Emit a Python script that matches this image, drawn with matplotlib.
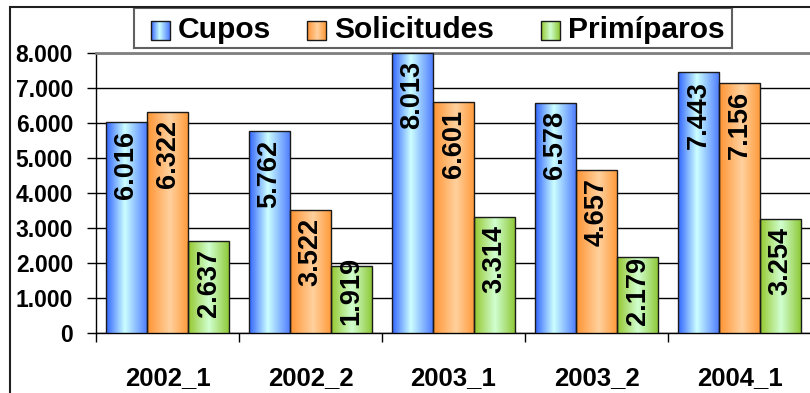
"""
Cupos, solicitudes y primiparos por periodo, barras agrupadas con degradado.
"""
import numpy as np
import matplotlib
matplotlib.use('Agg')
import matplotlib.pyplot as plt
from matplotlib.patches import Rectangle
from matplotlib.ticker import FuncFormatter

periodos    = ['2002_1', '2002_2', '2003_1', '2003_2', '2004_1']
cupos       = [6016, 5762, 8013, 6578, 7443]
solicitudes = [6322, 3522, 6601, 4657, 7156]
primiparos  = [2637, 1919, 3314, 2179, 3254]
series      = ['Cupos', 'Solicitudes', 'Primíparos']

plt.rcParams['font.family'] = ['Liberation Sans', 'DejaVu Sans']
plt.rcParams['font.weight'] = 'bold'

# Colores del degradado horizontal: borde izquierdo, centro, borde derecho.
gradientes = [
    ((0.20, 0.40, 1.00), (0.80, 1.00, 1.00), (0.30, 0.48, 1.00), 0.45),
    ((1.00, 0.58, 0.20), (1.00, 0.82, 0.62), (1.00, 0.60, 0.22), 0.55),
    ((0.58, 0.78, 0.18), (0.82, 1.00, 0.82), (0.55, 0.78, 0.20), 0.50),
]

def gradiente(izq, centro, der, pos, n=64):
    t = np.linspace(0, 1, n)
    rgb = np.zeros((1, n, 3))
    for c in range(3):
        rgb[0, :, c] = np.interp(t, [0, pos, 1], [izq[c], centro[c], der[c]])
    return rgb

def miles(v, _=None):
    return f'{int(v):,}'.replace(',', '.')

yMax = 8000
fig = plt.figure(figsize=(8.1, 3.93), dpi=100)
ax = fig.add_axes([96/810, 60/393, 715/810, 280/393])

x = np.arange(len(periodos))
ancho = 0.287
etiquetas = []
for i, valores in enumerate([cupos, solicitudes, primiparos]):
    barras = ax.bar(x + (i-1)*ancho, valores, ancho, facecolor='none',
        edgecolor='#1a1a1a', linewidth=1, zorder=4)
    img = gradiente(*gradientes[i])
    for b, v in zip(barras, valores):
        bx = b.get_x()
        im = ax.imshow(img, extent=[bx, bx+ancho, 0, v], aspect='auto',
            interpolation='bilinear', zorder=3)
        im.set_clip_path(b)
        t = ax.annotate(miles(v), xy=(bx+ancho/2, min(v, yMax)),
            xytext=(0, -6), textcoords='offset points', rotation=90,
            ha='center', va='top', fontsize=19.5, fontweight='bold',
            zorder=6, annotation_clip=False)
        etiquetas.append((t, bx+ancho/2))

ax.set_xlim(-0.5, len(periodos)-0.5)
ax.set_ylim(0, yMax)
ax.set_yticks(np.arange(0, yMax+1, 1000))
ax.yaxis.set_major_formatter(FuncFormatter(miles))
ax.yaxis.grid(True, color='black', linewidth=1)
ax.set_axisbelow(True)

ax.set_xticks(np.arange(len(periodos)+1)-0.5, labels=[])
ax.set_xticks(x, labels=periodos, minor=True)
ax.tick_params(axis='x', which='major', direction='out', length=6.5,
    width=1, color='black')
ax.tick_params(axis='x', which='minor', length=0, pad=24, labelsize=18.5)
ax.tick_params(axis='y', direction='out', length=6.5, width=1, pad=10,
    labelsize=16.5)

for s in ['left', 'bottom']:
    ax.spines[s].set_color('black')
    ax.spines[s].set_linewidth(1)
ax.spines['right'].set_visible(False)
ax.spines['top'].set_color('#808080')
ax.spines['top'].set_linewidth(2)

# Etiquetas que no caben dentro de la barra se apoyan en la base.
fig.canvas.draw()
renderer = fig.canvas.get_renderer()
base = ax.transData.transform((0, 0))[1]
for t, cx in etiquetas:
    bb = t.get_window_extent(renderer)
    if bb.y0 < base + 8:
        t.xy = (cx, 0)
        t.set_position((0, 6))
        t.set_va('bottom')

# Borde exterior del grafico.
fig.patches.append(Rectangle((9.5/810, -0.1), 1.2, (393-7)/393 + 0.1,
    transform=fig.transFigure, fill=False, edgecolor='#202020',
    linewidth=1.5, zorder=0))

# Leyenda.
axLeg = fig.add_axes([134/810, 1-48/393, 598/810, 40/393])
axLeg.set_xlim(134, 732)
axLeg.set_ylim(48, 8)
axLeg.set_xticks([])
axLeg.set_yticks([])
for s in axLeg.spines.values():
    s.set_color('#606060')
    s.set_linewidth(1.5)
marcas = [151, 307, 541]
for i, nombre in enumerate(series):
    mx = marcas[i]
    axLeg.imshow(gradiente(*gradientes[i]), extent=[mx, mx+19, 40, 21],
        aspect='auto', interpolation='bilinear', zorder=2)
    axLeg.add_patch(Rectangle((mx, 21), 19, 19, fill=False,
        edgecolor='#1a1a1a', linewidth=1, zorder=3))
    axLeg.text(mx+27, 30, nombre, fontsize=21.6, fontweight='bold',
        va='center', ha='left')
axLeg.set_xlim(134, 732)
axLeg.set_ylim(48, 8)

fig.savefig('out.png', dpi=100)
